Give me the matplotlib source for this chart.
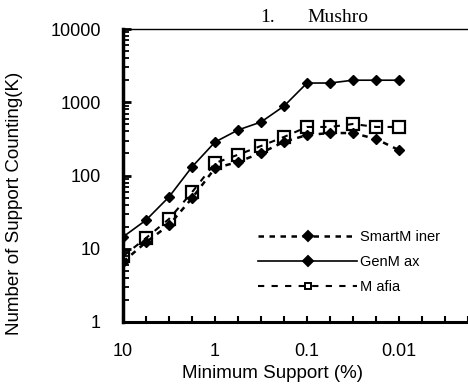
import numpy as np
import matplotlib
matplotlib.use("Agg")
import matplotlib.pyplot as plt
from matplotlib.ticker import LogLocator, NullFormatter, FixedLocator, FixedFormatter

# ==================================================
# Data
# ==================================================
support = ["10", "5", "3", "2", "1", "0.5", "0.3", "0.2",
           "0.1", "0.05", "0.03", "0.02", "0.01"]
smartminer = [6.6, 12.3, 21, 49, 126, 153, 203, 288, 357, 380, 380, 315, 222]
genmax = [14.5, 24.6, 51, 131, 286, 418, 537, 886, 1830, 1830, 2000, 2000, 2000]
mafia = [7.9, 14, 25.5, 59, 148, 192, 253, 336, 460, 460, 505, 460, 460]

x_labels = ["10", "1", "0.1", "0.01"]
x_label_pos = [0, 4, 8, 12]

plt.rcParams["font.family"] = ["Liberation Sans", "DejaVu Sans"]

# ==================================================
# Figure
# ==================================================
fig = plt.figure(figsize=(4.68, 3.87), dpi=100)
ax = fig.add_axes([123 / 468, 65 / 387, 345 / 468, 293 / 387])

x = np.arange(len(support))

ax.plot(x, smartminer, color="black", linestyle=(0, (2.2, 2.2)), linewidth=1.8,
        marker="D", markersize=5.5, markerfacecolor="black", label="SmartM iner")
ax.plot(x, genmax, color="black", linestyle="-", linewidth=1.2,
        marker="D", markersize=5.5, markerfacecolor="black", label="GenM ax")
ax.plot(x, mafia, color="black", linestyle=(0, (3, 3.5)), linewidth=1.5,
        marker="s", markersize=8, markerfacecolor="none", markeredgewidth=1.6,
        label="M afia")

ax.set_yscale("log")
ax.set_ylim(1, 10000)
ax.set_xlim(0, 15)

# y ticks
ax.yaxis.set_major_locator(FixedLocator([1, 10, 100, 1000, 10000]))
ax.yaxis.set_major_formatter(FixedFormatter(["1", "10", "100", "1000", "10000"]))
ax.yaxis.set_minor_locator(LogLocator(base=10, subs=np.arange(2, 10)))
ax.yaxis.set_minor_formatter(NullFormatter())
ax.tick_params(axis="y", which="major", direction="in", length=6, width=2,
               labelsize=13, pad=16)
ax.tick_params(axis="y", which="minor", direction="in", length=4, width=1.3)

# x ticks: one mark per category, labels every fourth
ax.xaxis.set_major_locator(FixedLocator(np.arange(0, 16)))
ax.xaxis.set_major_formatter(FixedFormatter(
    [x_labels[x_label_pos.index(i)] if i in x_label_pos else "" for i in range(16)]))
ax.tick_params(axis="x", which="major", direction="in", length=4, width=1.5,
               labelsize=13, pad=15)
ax.xaxis.set_minor_locator(FixedLocator([]))

ax.spines["left"].set_linewidth(2.5)
ax.spines["bottom"].set_linewidth(2.2)
ax.spines["top"].set_linewidth(1.0)
ax.spines["right"].set_visible(False)

ax.set_xlabel("Minimum Support (%)", fontsize=13.5, va="center")
ax.xaxis.set_label_coords((272 - 123) / 345, (322 - 374) / 293)
ax.set_ylabel("Number of Support Counting(K)", fontsize=13.5, va="center")
ax.yaxis.set_label_coords((15 - 123) / 345, (322 - 203) / 293)

leg = ax.legend(loc="upper left", bbox_to_anchor=(258 / 468, 1 - 230 / 387),
                bbox_transform=fig.transFigure, frameon=False, fontsize=10.5,
                handlelength=6.8, handletextpad=0.2, labelspacing=0.75,
                borderpad=0, borderaxespad=0)
for h in leg.legend_handles:
    h.set_markersize(5)
    h.set_markeredgewidth(1.4)

fig.text(260 / 468, 1 - 22 / 387, "1.", family=["Liberation Serif"],
         fontsize=14, ha="left", va="baseline")
fig.text(307 / 468, 1 - 22 / 387, "Mushro", family=["Liberation Serif"],
         fontsize=14, ha="left", va="baseline")

fig.savefig("out.png", dpi=100)
